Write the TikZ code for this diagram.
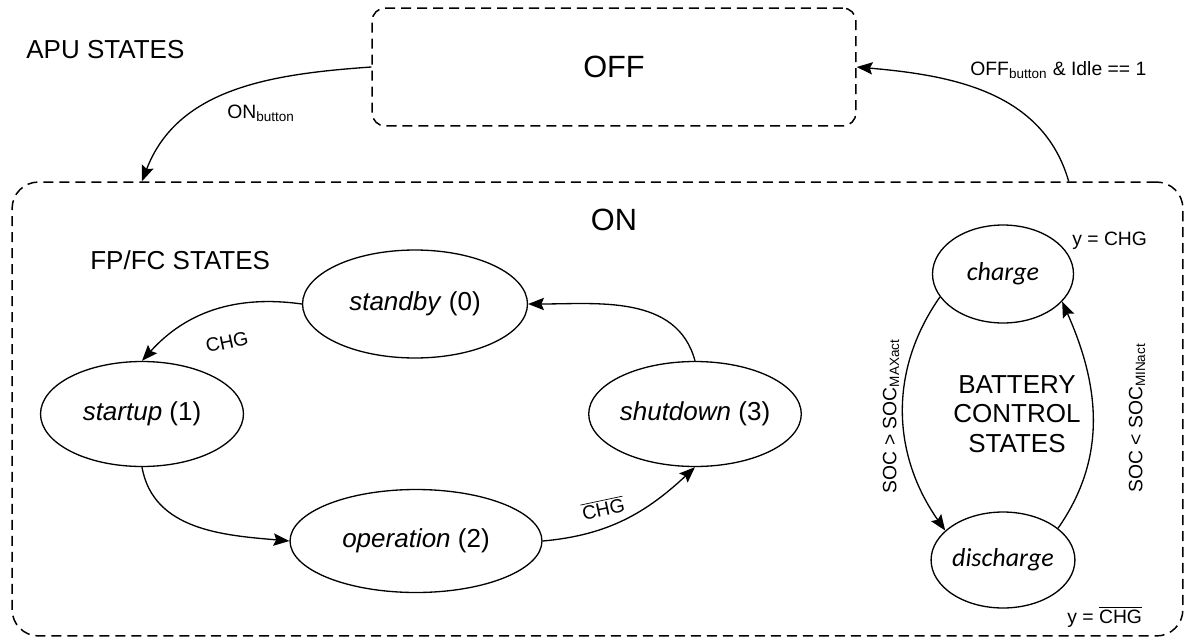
\documentclass[tikz,border=0pt]{standalone}
\usepackage{fontspec}
\setmainfont{Liberation Sans}
\newfontfamily\carlito{Carlito}
\usetikzlibrary{shapes.geometric,arrows.meta}

\begin{document}
\begin{tikzpicture}[x=0.02cm,y=0.02cm,
    box/.style={draw,line width=0.85pt,dash pattern=on 5.7pt off 3.4pt},
    state/.style={draw,ellipse,line width=0.75pt,inner sep=0pt,
      font=\fontsize{14.8}{17}\selectfont},
    bstate/.style={state,font=\fontsize{14.8}{17}\carlito\itshape},
    title/.style={inner sep=0pt,font=\fontsize{14.8}{16.8}\selectfont},
    big/.style={font=\fontsize{17.5}{20}\selectfont},
    lbl/.style={inner sep=0pt,font=\fontsize{11}{13}\selectfont},
    tr/.style={-{Stealth[length=9pt,width=7pt,inset=1.5pt]},line width=0.75pt}]
  \useasboundingbox (0,0) rectangle (1186,-639);
  % apu states
  \node[box,rounded corners=7.5pt,minimum width=9.68cm,minimum height=2.36cm,big]
    (off) at (614,-67) {OFF};
  \node[box,rounded corners=15pt,minimum width=23.42cm,minimum height=9.08cm]
    (on) at (597.5,-409) {};
  \node[big] (ontxt) at (614,-220) {ON};
  \node[title,anchor=west] (apu) at (26,-50) {APU STATES};
  \node[title,anchor=west] (fpfc) at (90,-260) {FP/FC STATES};
  % fp/fc states
  \draw
    (415,-304) node[state,minimum width=4.5cm,minimum height=2.16cm] (0) {\textit{standby} (0)}
    (142,-414) node[state,minimum width=4.06cm,minimum height=2.1cm] (1) {\textit{startup} (1)}
    (416,-541) node[state,minimum width=5.04cm,minimum height=2.06cm] (2) {\textit{operation} (2)}
    (695,-414) node[state,minimum width=4.12cm,minimum height=2.1cm] (3) {\textit{shutdown} (3)};
  % battery states
  \draw
    (1003,-274) node[bstate,minimum width=2.82cm,minimum height=1.96cm] (chg) {charge}
    (1003,-560) node[bstate,minimum width=2.8cm,minimum height=1.92cm] (dis) {discharge};
  \node[title,align=center] (batt) at (1017,-414) {BATTERY\\CONTROL\\STATES};
  \begin{scope}[tr]
    \draw (off.west) to[out=184,in=69] (1 |- on.north);
    \draw ([xshift=-2.3cm]on.north east) to[out=106,in=-5] (off.east);
    \draw (0.west) to[out=172,in=48] (1.north);
    \draw (1.south) to[out=-80,in=175] (2.west);
    \draw (2.east) to[out=5,in=223] (3.south);
    \draw (3.north) to[out=105,in=0] (0.east);
    \draw (chg.200) to[out=235,in=125] (dis.153);
    \draw (dis.30) to[out=55,in=-66] (chg.-25);
  \end{scope}
  % labels
  \node[lbl] (lon) at (261,-113) {ON\textsubscript{button}};
  \node[lbl,anchor=west] (loff) at (970,-70) {OFF\textsubscript{button} \& Idle == 1};
  \node[lbl,rotate=12] (l01) at (227,-342) {CHG};
  \node[lbl,rotate=12] (l23) at (603,-508) {$\overline{\mbox{CHG}}$};
  \node[lbl,anchor=west] (ychg) at (1072,-241) {y = CHG};
  \node[lbl,anchor=west] (ydis) at (1067,-617) {y = $\overline{\mbox{CHG}}$};
  \node[lbl,rotate=90] (lmax) at (891,-416) {SOC > SOC\textsubscript{MAXact}};
  \node[lbl,rotate=90] (lmin) at (1137,-418) {SOC < SOC\textsubscript{MINact}};
\end{tikzpicture}
\end{document}
